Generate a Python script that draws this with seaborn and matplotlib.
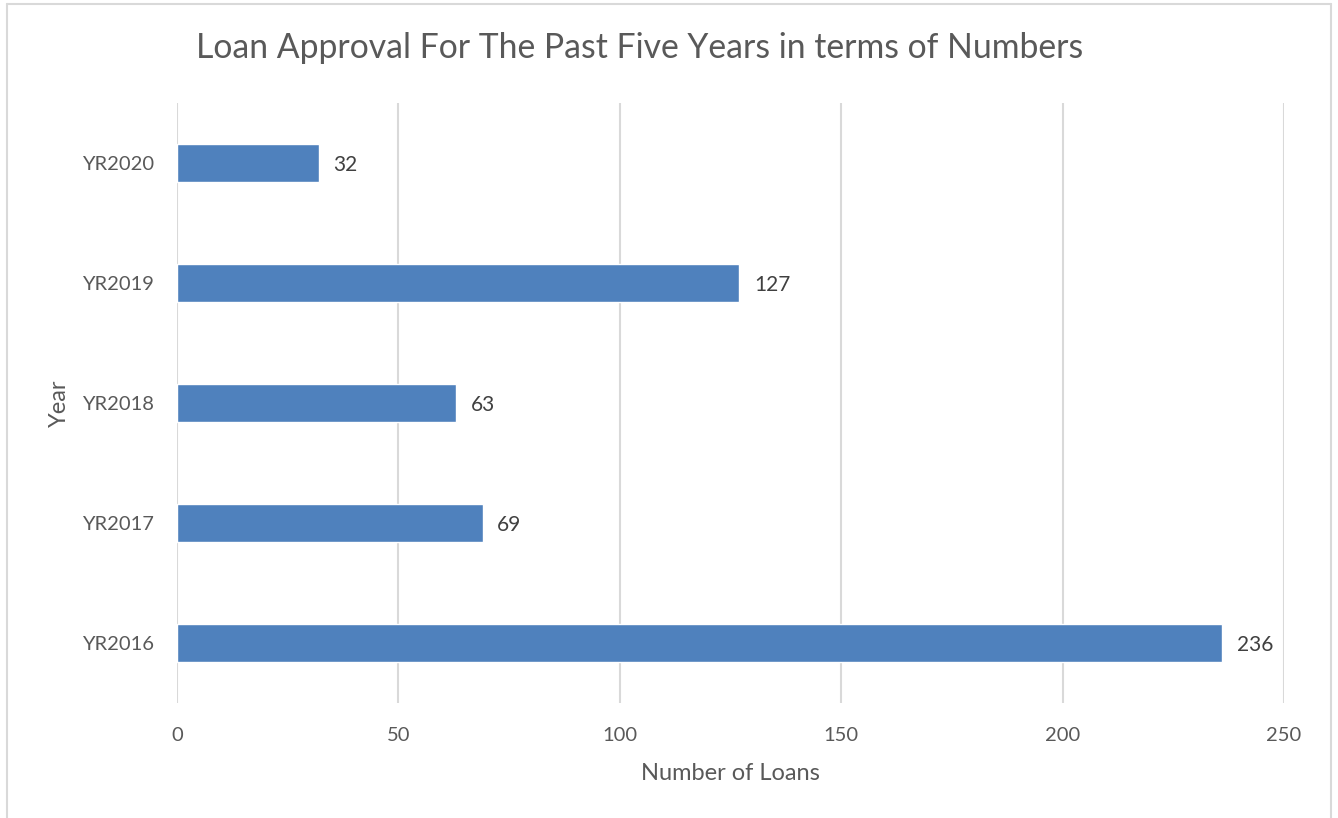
import matplotlib
matplotlib.use("Agg")
import matplotlib.pyplot as plt
import seaborn as sns
import pandas as pd
from matplotlib.lines import Line2D

years = ["YR2020", "YR2019", "YR2018", "YR2017", "YR2016"]
loans = [32, 127, 63, 69, 236]
x_ticks = [0, 50, 100, 150, 200, 250]

sns.set_theme(style="white")
plt.rcParams["font.family"] = ["Lato", "DejaVu Sans"]

text_color = "#595959"
bar_color = "#4F81BD"
grid_color = "#D9D9D9"

df = pd.DataFrame({"Year": years, "Loans": loans})

fig = plt.figure(figsize=(13.38, 8.18), dpi=100)
ax = fig.add_axes([177 / 1338, 1 - 703 / 818, (1284 - 177) / 1338, 600 / 818])

sns.barplot(data=df, x="Loans", y="Year", order=years, color=bar_color,
            width=0.31, saturation=1, ax=ax, zorder=3)

ax.set_xlim(0, 250)
ax.set_xticks(x_ticks)
ax.set_ylim(len(years) - 0.5, -0.5)
for x in x_ticks:
    ax.axvline(x, color=grid_color, lw=1.5, zorder=1)

for s in ax.spines.values():
    s.set_visible(False)
ax.tick_params(axis="both", length=0, colors=text_color, labelsize=14.5)
ax.tick_params(axis="x", pad=17)
ax.tick_params(axis="y", pad=16.5)

for i, v in enumerate(loans):
    ax.text(v + 3.3, i, f"{v}", va="center_baseline", ha="left",
            fontsize=15, color="#404040")

ax.set_xlabel("Number of Loans", fontsize=17, color=text_color, labelpad=14)
ax.set_ylabel("Year", fontsize=17, color=text_color, labelpad=8.5)

fig.text(640 / 1338, 1 - 48 / 818, "Loan Approval For The Past Five Years in terms of Numbers",
         ha="center", va="center", fontsize=24.3, color=text_color)

# light chart-area frame
for xs, ys in [([7, 7], [0, 814]), ([7, 1331], [814, 814]), ([1331, 1331], [0, 814])]:
    fig.add_artist(Line2D([x / 1338 for x in xs], [y / 818 for y in ys],
                          color="#D9D9D9", lw=1.5, transform=fig.transFigure))

fig.savefig("out.png", dpi=100)
